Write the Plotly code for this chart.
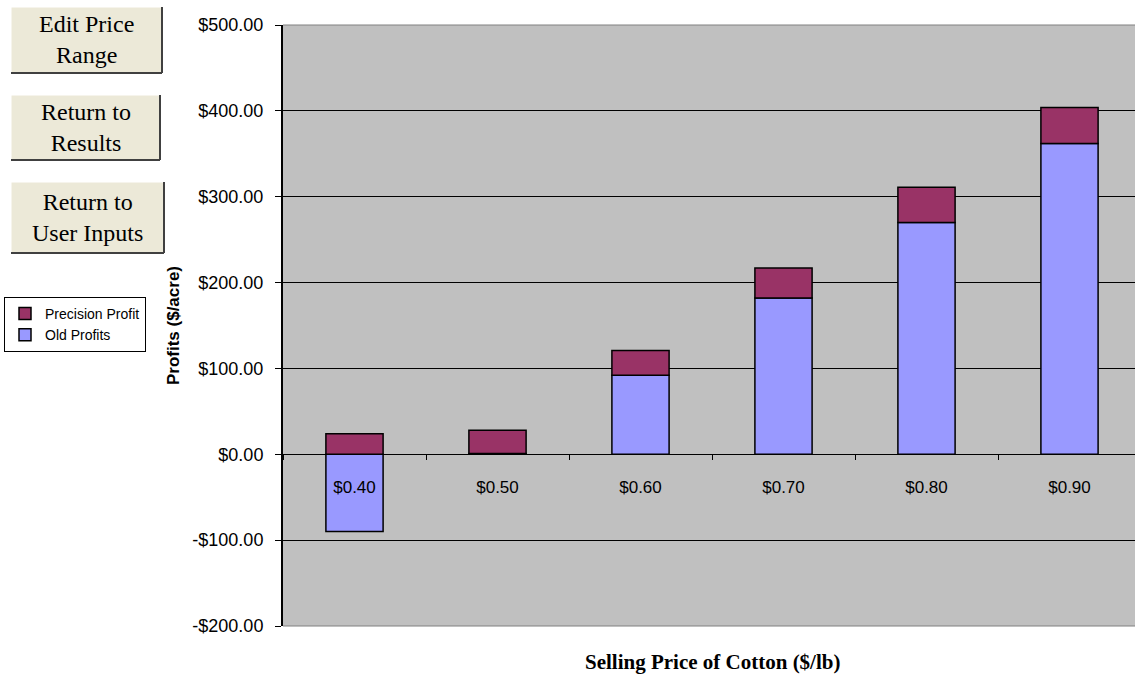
import plotly.graph_objects as go

# ---- data ----
categories = ["$0.40", "$0.50", "$0.60", "$0.70", "$0.80", "$0.90"]
old_profits = [-90, 1, 92, 182, 270, 362]
precision_profit = [24, 27, 29, 35, 41, 42]
y_tickvals = [-200, -100, 0, 100, 200, 300, 400, 500]
y_ticktext = ["-$200.00", "-$100.00", "$0.00", "$100.00", "$200.00", "$300.00", "$400.00", "$500.00"]
buttons = ["Edit Price<br>Range", "Return to<br>Results", "Return to<br>User Inputs"]

W, H = 1135, 675
ML, MR, MT, MB = 283, 0, 25, 49
PW, PH = W - ML - MR, H - MT - MB

def px(x):
    return (x - ML) / PW

def py(y):
    return (H - MB - y) / PH

fig = go.Figure()
fig.add_trace(go.Bar(
    x=categories, y=old_profits, name="Old Profits",
    marker=dict(color="#9999FF", line=dict(color="black", width=1.5)),
    width=0.4,
))
fig.add_trace(go.Bar(
    x=categories, y=precision_profit, name="Precision Profit",
    marker=dict(color="#993366", line=dict(color="black", width=1.5)),
    width=0.4,
))

ymin, ymax = -200, 500
zero_pos = (0 - ymin) / (ymax - ymin)

fig.update_layout(
    width=W, height=H, autosize=False,
    margin=dict(l=ML, r=MR, t=MT, b=MB, pad=0),
    barmode="relative",
    paper_bgcolor="white",
    plot_bgcolor="#C0C0C0",
    font=dict(family="Liberation Sans, Arial, sans-serif", size=17, color="black"),
    showlegend=True,
    legend=dict(
        x=px(4), y=py(297), xanchor="left", yanchor="top",
        bgcolor="white", bordercolor="black", borderwidth=1,
        font=dict(family="Liberation Sans, Arial, sans-serif", size=14, color="black"),
        traceorder="reversed", itemwidth=30, tracegroupgap=0,
    ),
    xaxis=dict(
        type="category",
        range=[-0.5, -0.5 + PW / 143.0],
        anchor="free", position=zero_pos,
        showline=True, linecolor="black", linewidth=1,
        ticks="outside", ticklen=5, tickcolor="black", tickwidth=1,
        tickson="boundaries",
        showgrid=False,
        ticklabelstandoff=17,
        tickfont=dict(family="Liberation Sans, Arial, sans-serif", size=17),
    ),
    yaxis=dict(
        range=[ymin, ymax],
        tickvals=y_tickvals, ticktext=y_ticktext,
        showline=True, linecolor="black", linewidth=2,
        ticks="outside", ticklen=6, tickcolor="black",
        ticklabelstandoff=8,
        showgrid=True, gridcolor="black", gridwidth=1,
        zeroline=True, zerolinecolor="black", zerolinewidth=1,
        tickfont=dict(family="Liberation Sans, Arial, sans-serif", size=18),
        title=dict(text="<b>Profits ($/acre)</b>", standoff=8,
                   font=dict(family="Liberation Sans, Arial, sans-serif", size=17)),
    ),
)

# plot-area border (gray top/bottom)
fig.add_shape(type="line", xref="paper", yref="paper", x0=0, x1=1, y0=1, y1=1,
              line=dict(color="#808080", width=1), layer="above")
fig.add_shape(type="line", xref="paper", yref="paper", x0=0, x1=1, y0=0, y1=0,
              line=dict(color="#808080", width=1), layer="above")

# x axis title
fig.add_annotation(
    text="<b>Selling Price of Cotton ($/lb)</b>", xref="paper", yref="paper",
    x=px(712), y=py(662), xanchor="center", yanchor="middle", showarrow=False,
    font=dict(family="Liberation Serif, Times New Roman, serif", size=21, color="black"),
)

# buttons
boxes = [(11, 7, 162, 73), (11, 95, 160, 160), (11, 182, 164, 253)]
for (x0, y0, x1, y1), label in zip(boxes, buttons):
    fig.add_shape(type="rect", xref="paper", yref="paper",
                  x0=px(x0), x1=px(x1), y0=py(y1), y1=py(y0),
                  fillcolor="#ECE9D8", line=dict(width=0))
    fig.add_shape(type="line", xref="paper", yref="paper",
                  x0=px(x0), x1=px(x1), y0=py(y0), y1=py(y0),
                  line=dict(color="white", width=1))
    fig.add_shape(type="line", xref="paper", yref="paper",
                  x0=px(x0), x1=px(x0), y0=py(y0), y1=py(y1),
                  line=dict(color="white", width=1))
    fig.add_shape(type="line", xref="paper", yref="paper",
                  x0=px(x1), x1=px(x1), y0=py(y0), y1=py(y1),
                  line=dict(color="#404040", width=2))
    fig.add_shape(type="line", xref="paper", yref="paper",
                  x0=px(x0), x1=px(x1), y0=py(y1), y1=py(y1),
                  line=dict(color="#404040", width=2))
    fig.add_annotation(
        text=label, xref="paper", yref="paper",
        x=px((x0 + x1) / 2), y=py((y0 + y1) / 2), xanchor="center", yanchor="middle",
        showarrow=False, align="center",
        font=dict(family="Liberation Serif, Times New Roman, serif", size=24, color="black"),
    )

fig.write_html("out.html")
